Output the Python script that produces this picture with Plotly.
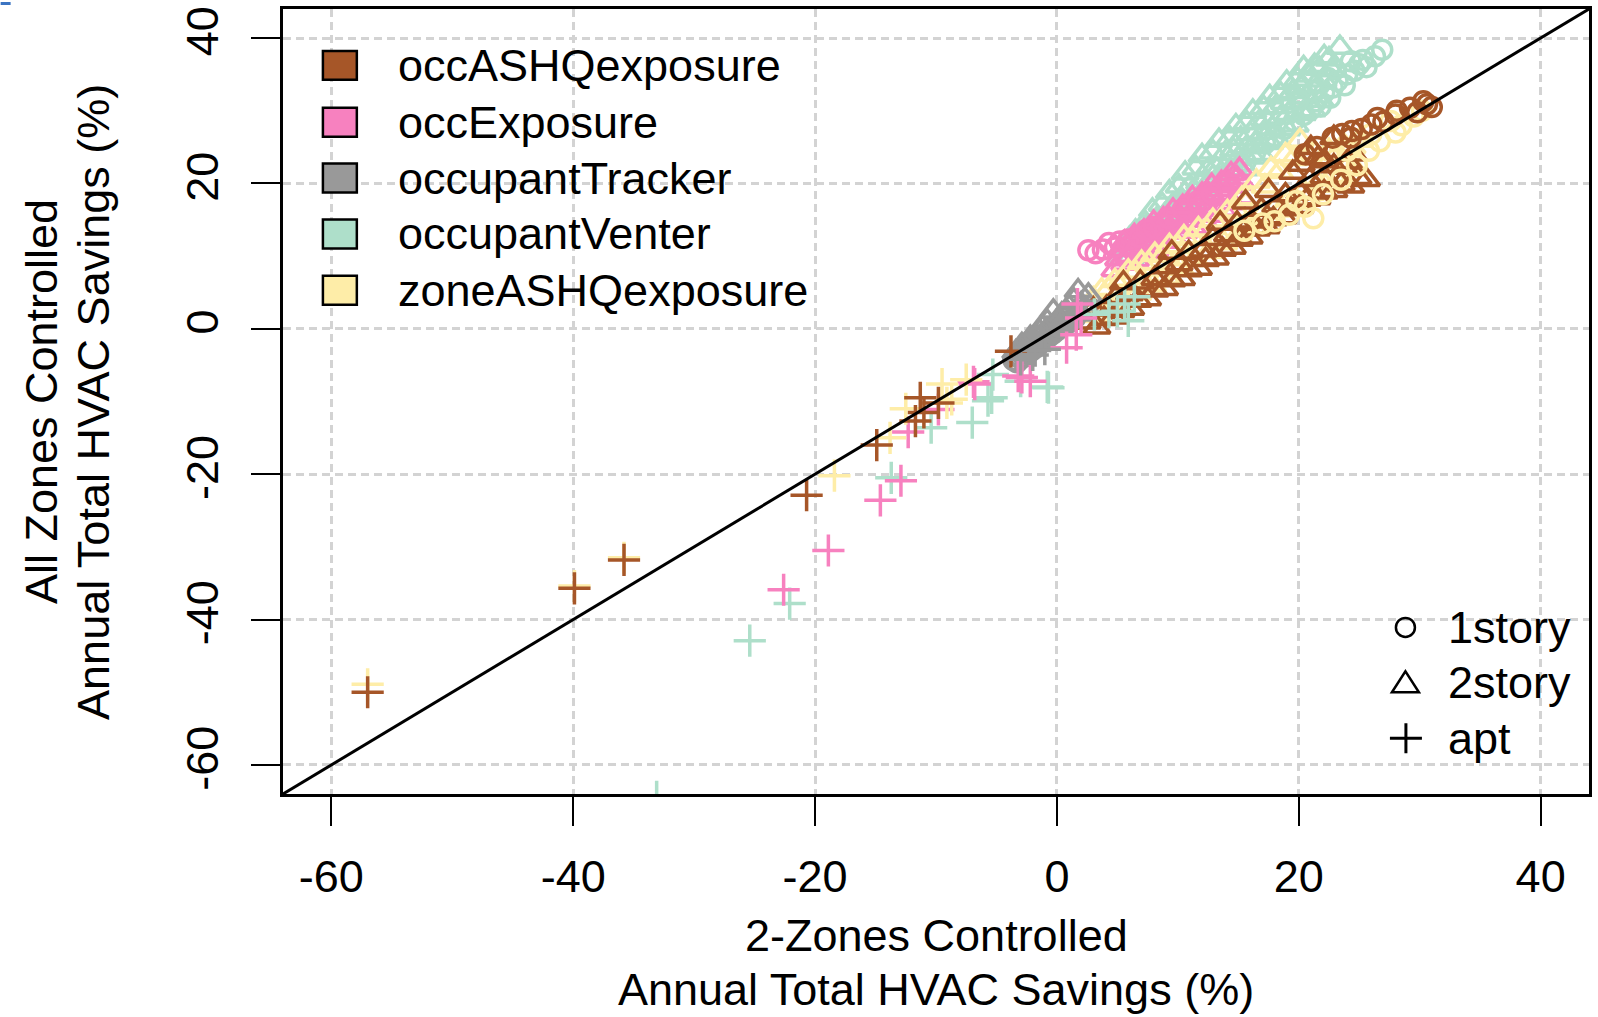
import plotly.graph_objects as go

# ---------------- data ----------------
categories = ["occASHQexposure", "occExposure", "occupantTracker", "occupantVenter", "zoneASHQexposure"]
category_colors = ["#A65628", "#F781BF", "#999999", "#AEDFCA", "#FEEDA8"]
building_types = ["1story", "2story", "apt"]
x_tick_values = [-60, -40, -20, 0, 20, 40]
x_tick_labels = ["-60", "-40", "-20", "0", "20", "40"]
y_tick_values = [-60, -40, -20, 0, 20, 40]
y_tick_labels = ["-60", "-40", "-20", "0", "20", "40"]
axis_range = [-64, 44]

# ---- occASHQexposure ----
occASHQ_1story_x = [30.6, 29.2, 28.0, 26.0, 24.4, 22.8, 31.0, 29.8, 27.0, 25.2, 23.6, 21.5, 20.5, 30.3, 28.1, 26.5, 24.3]
occASHQ_1story_y = [30.9, 30.4, 29.5, 28.1, 27.2, 26.3, 30.5, 29.8, 28.5, 27.5, 26.8, 25.0, 24.0, 31.3, 30.0, 29.0, 26.3]
occASHQ_2story_xa = [2.5, 3.3, 3.9, 4.7, 5.3, 6.1, 6.7, 7.5, 8.1, 8.9, 9.5, 10.3, 10.9, 11.7, 12.3, 13.1, 13.7, 14.5,
                     15.1, 15.9, 16.5, 17.3, 17.9, 18.7, 19.3, 20.1, 20.7, 21.5, 22.1, 22.9, 23.5, 24.3, 24.9, 25.6]
occASHQ_2story_ya = [0.9, 0.2, 1.4, 1.6, 2.5, 2.8, 3.9, 4.1, 5.3, 5.5, 6.7, 6.9, 8.1, 8.3, 9.5, 9.7, 10.9, 11.2,
                     12.3, 12.6, 13.7, 14.0, 15.1, 15.4, 16.5, 16.8, 17.8, 18.0, 18.8, 19.0, 19.9, 19.6, 20.8, 20.5]
occASHQ_2story_xb = [3.0, 4.1, 4.9, 6.0, 6.9, 8.1, 8.9, 10.1, 10.9, 12.1, 12.9, 14.1, 14.9, 16.1, 16.9, 18.1, 18.9,
                     20.1, 20.9, 22.1, 22.9, 24.1]
occASHQ_2story_yb = [2.7, 2.9, 4.4, 4.8, 6.4, 6.9, 8.5, 8.9, 10.5, 10.8, 12.4, 12.9, 14.5, 14.8, 16.4, 16.9, 18.4,
                     18.7, 20.5, 20.9, 22.4, 22.9]
occASHQ_2story_xc = [19.5, 20.2, 21.0, 21.6, 22.1, 22.9, 23.7, 17.5, 13.5, 9.5, 5.5, 15.6, 24.5]
occASHQ_2story_yc = [21.5, 22.6, 24.9, 23.5, 23.1, 26.3, 22.2, 19.0, 14.5, 10.5, 6.3, 17.4, 24.0]
occASHQ_apt_x = [-57.0, -39.9, -35.8, -20.7, -14.9, -11.7, -11.3, -9.8, -11.0, -3.8]
occASHQ_apt_y = [-50.0, -35.7, -31.8, -22.9, -16.0, -12.7, -9.5, -10.2, -11.5, -3.1]

# ---- occExposure ----
occExp_1story_x = [2.6, 3.8, 4.8, 5.9, 3.2, 4.3, 6.8, 8.0, 9.2, 10.4, 11.6, 12.8, 5.2, 7.4]
occExp_1story_y = [10.8, 10.9, 11.2, 12.3, 10.4, 11.8, 12.6, 14.0, 15.2, 16.4, 17.5, 18.6, 12.0, 13.6]
occExp_2story_xa = [4.8, 5.6, 6.5, 7.2, 8.1, 8.9, 9.6, 10.5, 11.2, 12.1, 12.8, 13.7, 14.5, 15.2]
occExp_2story_ya = [8.1, 9.0, 9.5, 10.5, 10.9, 12.0, 12.5, 13.4, 14.0, 14.9, 15.6, 16.4, 17.3, 18.1]
occExp_2story_xb = [5.1, 5.9, 6.7, 7.4, 8.3, 9.0, 9.8, 10.7, 11.4, 12.3, 13.0, 13.9, 14.6, 15.3]
occExp_2story_yb = [9.6, 10.1, 11.2, 11.6, 12.9, 13.3, 14.5, 15.0, 16.2, 16.7, 17.9, 18.4, 19.6, 20.0]
occExp_2story_xc = [5.3, 6.1, 6.9, 7.7, 8.5, 9.3, 10.1, 10.9, 11.7, 12.5, 13.3, 14.1, 14.9]
occExp_2story_yc = [10.9, 11.7, 12.2, 13.4, 13.9, 15.1, 15.6, 16.9, 17.3, 18.6, 19.1, 20.3, 20.7]
occExp_2story_xd = [5.6, 6.4, 7.2, 8.0, 8.8, 9.6, 10.4, 11.2, 12.0, 12.8, 13.6, 14.4, 15.1]
occExp_2story_yd = [11.9, 12.8, 13.4, 14.6, 15.1, 16.3, 16.8, 18.0, 18.5, 19.7, 20.1, 21.3, 21.9]
occExp_apt_x = [-22.6, -18.9, -14.6, -12.9, -12.3, -9.8, -6.9, -3.2, -2.2, -2.9, -6.8, 2.0, 1.7, 0.8, 1.6]
occExp_apt_y = [-35.9, -30.5, -23.6, -20.9, -14.2, -11.1, -7.3, -6.5, -7.2, -6.7, -7.6, 1.5, 3.4, -2.6, -0.8]

# ---- occupantTracker ----
occTrack_1story_x = [-3.6, -3.3, -3.3, -3.0, -3.0, -2.7, -2.7, -2.4, -2.4, -2.1, -2.1, -1.8, -1.8, -1.5, -1.5, -1.2,
                     -1.2, -0.9, -0.9, -0.6, -0.6, -0.3, -0.3, 0.0, 0.0, 0.3, 0.3, 0.6, 0.6, 0.9, 0.9, 1.2, 1.5]
occTrack_1story_y = [-4.3, -3.6, -4.6, -3.3, -4.1, -2.9, -3.8, -2.5, -3.4, -2.1, -3.0, -1.7, -2.6, -1.3, -2.2, -0.9,
                     -1.8, -0.5, -1.4, -0.1, -1.0, 0.3, -0.6, 0.7, -0.2, 1.1, 0.2, 1.5, 0.5, 1.8, 0.8, 1.2, 1.5]
occTrack_2story_x = [-0.3, 1.75, 2.6, 1.0, 0.4, -0.8, -1.5, -2.2, -2.9, -3.4, 2.0, 0.8, 1.4, 0.2, -1.2, 2.4, 1.7]
occTrack_2story_y = [2.4, 5.2, 4.6, 3.0, 2.0, 1.0, -0.2, -1.2, -2.2, -3.2, 3.4, 2.4, 3.9, 1.2, 0.2, 2.8, 2.0]
occTrack_apt_x = [-3.0, -2.0, -1.0, -1.8]
occTrack_apt_y = [-4.2, -3.6, -2.8, -3.0]

# ---- occupantVenter ----
occVent_1story_x = [26.9, 25.0, 24.6, 25.6, 24.0, 23.2, 22.8, 22.4, 22.1, 21.5, 21.2, 21.0, 20.4, 19.6, 18.8, 18.0, 17.2,
                    16.4, 15.6, 14.8, 13.8, 24.3, 23.0, 20.0, 26.3, 25.3, 23.8, 22.6, 21.8]
occVent_1story_y = [38.4, 36.4, 35.5, 36.0, 35.0, 34.1, 33.2, 34.5, 32.5, 31.3, 32.7, 30.2, 29.4, 28.6, 27.5, 26.5, 25.5,
                    24.3, 23.0, 22.0, 20.8, 36.8, 35.7, 31.5, 37.5, 37.0, 33.5, 31.8, 30.6]
occVent_2story_xa = [5.5, 6.1, 6.9, 7.6, 8.4, 9.0, 9.9, 10.5, 11.3, 12.0, 12.6, 13.4, 14.1, 14.7, 15.5, 16.2, 16.8,
                     17.6, 18.2, 19.0, 19.7, 20.3, 21.1, 21.8]
occVent_2story_ya = [9.7, 9.9, 10.4, 12.1, 12.5, 13.9, 14.4, 15.9, 16.3, 17.8, 18.2, 19.7, 20.1, 21.6, 22.0, 23.6, 24.1,
                     25.6, 26.0, 27.5, 28.0, 29.6, 30.1, 31.4]
occVent_2story_xb = [5.7, 6.3, 7.1, 7.8, 8.5, 9.3, 10.0, 10.8, 11.5, 12.2, 12.9, 13.6, 14.3, 15.0, 15.7, 16.4, 17.1,
                     17.8, 18.5, 19.2, 19.9, 20.6, 21.3, 22.0, 22.7]
occVent_2story_yb = [10.9, 11.6, 12.2, 13.5, 14.4, 15.0, 16.6, 17.2, 18.7, 19.3, 20.9, 21.4, 23.0, 23.4, 25.0, 25.5, 27.0,
                     27.6, 29.1, 29.6, 31.2, 31.9, 33.5, 34.2, 35.6]
occVent_2story_xc = [6.0, 6.8, 7.4, 8.2, 8.9, 9.6, 10.3, 11.0, 11.8, 12.5, 13.1, 13.9, 14.6, 15.2, 16.0, 16.7, 17.3,
                     18.1, 18.8, 19.5, 20.2, 20.9, 21.7, 22.5, 23.4]
occVent_2story_yc = [12.4, 13.0, 14.0, 15.0, 15.6, 17.1, 17.8, 19.6, 20.1, 21.9, 22.2, 24.1, 24.6, 26.2, 26.8, 28.4, 28.8,
                     30.5, 31.1, 32.6, 33.2, 34.9, 35.8, 37.1, 38.7]
occVent_2story_xd = [5.8, 6.5, 7.3, 7.9, 8.7, 9.3, 10.1, 10.6, 11.5, 12.0, 12.9, 13.4, 14.3, 14.8, 15.7, 16.2, 17.1,
                     17.6, 18.5, 19.0, 19.9, 20.4, 21.3, 22.1]
occVent_2story_yd = [11.8, 13.4, 14.6, 16.3, 17.1, 18.8, 19.6, 21.4, 22.1, 23.8, 24.3, 25.9, 26.2, 27.9, 28.3, 29.9, 30.4,
                     31.9, 32.3, 33.9, 34.3, 35.9, 36.2, 37.4]
occVent_apt_x = [-33.1, -25.4, -22.1, -13.7, -10.4, -7.0, -5.7, -5.3, -3.0, -0.8, -5.4, -0.7, 3.1, 5.0, 5.9, 5.6, 6.4, 4.3]
occVent_apt_y = [-64.4, -42.9, -37.8, -20.5, -13.6, -12.9, -9.9, -6.3, -7.2, -8.0, -9.5, -8.1, 2.0, 2.4, 1.1, 3.4, 4.4, 2.3]

# ---- zoneASHQexposure ----
zoneASHQ_1story_x = [15.5, 17.0, 18.0, 19.2, 20.5, 22.0, 23.5, 24.8, 25.8, 26.7, 27.6, 26.0, 28.5, 29.5, 30.2, 28.0, 24.0,
                     21.2, 19.8]
zoneASHQ_1story_y = [13.5, 14.5, 14.8, 15.7, 16.8, 18.5, 20.5, 22.5, 24.5, 25.8, 28.6, 26.8, 28.0, 29.2, 30.0, 27.0, 24.5,
                     15.2, 17.6]
zoneASHQ_2story_xa = [3.0, 3.7, 4.3, 4.8, 5.4, 5.9, 6.5, 7.0, 7.6, 8.1, 8.8, 9.3, 10.0, 10.5, 11.2, 11.7, 12.4, 12.9,
                      13.6, 14.1, 14.8, 15.3, 16.0, 16.5, 17.2, 17.7, 18.4, 18.9, 19.6, 20.1, 20.8, 21.3, 22.0, 22.5,
                      23.2, 23.7, 24.4, 25.0]
zoneASHQ_2story_ya = [4.1, 5.3, 5.5, 6.6, 6.8, 7.9, 7.8, 9.1, 9.0, 10.2, 10.1, 11.4, 11.3, 12.6, 12.4, 13.7, 13.6, 14.9,
                      14.9, 16.1, 16.3, 17.9, 18.0, 20.3, 19.6, 22.0, 21.6, 23.9, 23.4, 25.9, 23.8, 24.2, 23.3, 24.5,
                      24.1, 25.3, 25.0, 25.9]
zoneASHQ_2story_xb = [3.3, 3.9, 4.5, 5.1, 5.6, 6.2, 6.7, 7.3, 7.9, 8.4, 9.0, 9.6, 10.2, 10.8, 11.4, 12.0, 12.6, 13.2,
                      13.8, 14.4, 15.0, 15.6, 16.2, 16.8, 17.4, 18.0, 18.6, 19.2, 19.8, 20.4, 21.0, 21.6, 22.2, 22.8,
                      23.4, 24.0, 24.6]
zoneASHQ_2story_yb = [1.8, 2.6, 2.7, 3.8, 3.9, 5.0, 4.9, 6.1, 6.0, 7.3, 7.1, 8.5, 8.3, 9.6, 9.5, 10.8, 10.6, 11.9,
                      11.8, 13.1, 12.9, 14.3, 14.0, 15.4, 15.2, 16.5, 16.3, 17.7, 17.4, 18.9, 18.6, 20.0, 19.7, 21.1,
                      20.8, 22.3, 22.0]
zoneASHQ_apt_x = [-57.0, -39.9, -35.8, -18.4, -13.8, -9.5, -9.1, -8.7, -12.5, -7.5]
zoneASHQ_apt_y = [-48.9, -35.4, -31.5, -20.2, -15.0, -7.6, -10.2, -9.7, -11.0, -7.0]

series = {
    ("occASHQexposure", "1story"): (occASHQ_1story_x, occASHQ_1story_y),
    ("occASHQexposure", "2story"): (occASHQ_2story_xa + occASHQ_2story_xb + occASHQ_2story_xc,
                                    occASHQ_2story_ya + occASHQ_2story_yb + occASHQ_2story_yc),
    ("occASHQexposure", "apt"): (occASHQ_apt_x, occASHQ_apt_y),
    ("occExposure", "1story"): (occExp_1story_x, occExp_1story_y),
    ("occExposure", "2story"): (occExp_2story_xa + occExp_2story_xb + occExp_2story_xc + occExp_2story_xd,
                                occExp_2story_ya + occExp_2story_yb + occExp_2story_yc + occExp_2story_yd),
    ("occExposure", "apt"): (occExp_apt_x, occExp_apt_y),
    ("occupantTracker", "1story"): (occTrack_1story_x, occTrack_1story_y),
    ("occupantTracker", "2story"): (occTrack_2story_x, occTrack_2story_y),
    ("occupantTracker", "apt"): (occTrack_apt_x, occTrack_apt_y),
    ("occupantVenter", "1story"): (occVent_1story_x, occVent_1story_y),
    ("occupantVenter", "2story"): (occVent_2story_xa + occVent_2story_xb + occVent_2story_xc + occVent_2story_xd,
                                   occVent_2story_ya + occVent_2story_yb + occVent_2story_yc + occVent_2story_yd),
    ("occupantVenter", "apt"): (occVent_apt_x, occVent_apt_y),
    ("zoneASHQexposure", "1story"): (zoneASHQ_1story_x, zoneASHQ_1story_y),
    ("zoneASHQexposure", "2story"): (zoneASHQ_2story_xa + zoneASHQ_2story_xb, zoneASHQ_2story_ya + zoneASHQ_2story_yb),
    ("zoneASHQexposure", "apt"): (zoneASHQ_apt_x, zoneASHQ_apt_y),
}

# ---------------- styling ----------------
W, H = 1598, 1017
ML, MR, MT, MB = 283, 6, 7, 223
FONT = "Liberation Sans, Arial, Helvetica, sans-serif"
FS = 45
color_of = dict(zip(categories, category_colors))
symbol_of = {"1story": "circle-open", "2story": "triangle-up-open", "apt": "cross-thin-open"}
size_of = {"1story": 19, "2story": 23, "apt": 23}
width_of = {"1story": 3.5, "2story": 3.5, "apt": 3.5}

draw_order = [
    ("occupantVenter", "2story"), ("occupantVenter", "1story"),
    ("occExposure", "2story"), ("occExposure", "1story"),
    ("zoneASHQexposure", "2story"), ("occASHQexposure", "2story"),
    ("zoneASHQexposure", "1story"), ("occASHQexposure", "1story"),
    ("occupantTracker", "1story"), ("occupantTracker", "2story"),
    ("occupantVenter", "apt"), ("occExposure", "apt"), ("zoneASHQexposure", "apt"),
    ("occASHQexposure", "apt"), ("occupantTracker", "apt"),
]

fig = go.Figure()
for cat, bt in draw_order:
    xs, ys = series[(cat, bt)]
    fig.add_trace(go.Scatter(
        x=xs, y=ys, mode="markers", name=f"{cat} {bt}", showlegend=False,
        marker=dict(symbol=symbol_of[bt], size=size_of[bt], color=color_of[cat],
                    line=dict(color=color_of[cat], width=width_of[bt])),
        hoverinfo="x+y+name",
    ))

def px2x(px):
    return (px - ML) / (W - ML - MR)

def py2y(py):
    return (H - MB - py) / (H - MT - MB)

shapes = []
annotations = []

# y = x reference line spanning the axis range
shapes.append(dict(type="line", xref="x", yref="y", x0=axis_range[0], y0=axis_range[0],
                   x1=axis_range[1], y1=axis_range[1], line=dict(color="black", width=3), layer="above"))

# category legend (filled boxes)
leg1_rows = [63.5, 120.5, 176.5, 232.5, 289]
for cat, col, yc in zip(categories, category_colors, leg1_rows):
    shapes.append(dict(type="rect", xref="paper", yref="paper",
                       x0=px2x(323), x1=px2x(357), y0=py2y(yc + 14.5), y1=py2y(yc - 14.5),
                       fillcolor=col, line=dict(color="black", width=2.5), layer="above"))
    annotations.append(dict(text=cat, xref="paper", yref="paper", x=px2x(396), y=py2y(yc),
                            xanchor="left", yanchor="middle", showarrow=False,
                            font=dict(family=FONT, size=FS, color="black")))

# building-type legend (symbols)
leg2_rows = [627, 682, 738]
sx = 1408
shapes.append(dict(type="circle", xref="paper", yref="paper", xsizemode="pixel", ysizemode="pixel",
                   xanchor=px2x(sx), yanchor=py2y(leg2_rows[0]), x0=-9.5, x1=9.5, y0=-9.5, y1=9.5,
                   line=dict(color="black", width=2.5), layer="above"))
shapes.append(dict(type="path", xref="paper", yref="paper", xsizemode="pixel", ysizemode="pixel",
                   xanchor=px2x(sx), yanchor=py2y(leg2_rows[1]), path="M -13.5,-10 L 13.5,-10 L 0,11 Z",
                   line=dict(color="black", width=2.5), layer="above"))
shapes.append(dict(type="path", xref="paper", yref="paper", xsizemode="pixel", ysizemode="pixel",
                   xanchor=px2x(sx + 0.5), yanchor=py2y(leg2_rows[2]), path="M -16,0 L 16,0 M 0,-15 L 0,15",
                   line=dict(color="black", width=3), layer="above"))
for bt, yc in zip(building_types, leg2_rows):
    annotations.append(dict(text=bt, xref="paper", yref="paper", x=px2x(1449), y=py2y(yc),
                            xanchor="left", yanchor="middle", showarrow=False,
                            font=dict(family=FONT, size=FS, color="black")))

# axis titles (two lines each)
for txt, py in [("2-Zones Controlled", 936), ("Annual Total HVAC Savings (%)", 990)]:
    annotations.append(dict(text=txt, xref="paper", yref="paper", x=0.5, y=py2y(py),
                            xanchor="center", yanchor="middle", showarrow=False,
                            font=dict(family=FONT, size=FS, color="black")))
for txt, px in [("All Zones Controlled", 41), ("Annual Total HVAC Savings (%)", 93)]:
    annotations.append(dict(text=txt, xref="paper", yref="paper", x=px2x(px), y=0.5, textangle=-90,
                            xanchor="center", yanchor="middle", showarrow=False,
                            font=dict(family=FONT, size=FS, color="black")))

# small blue mark in the top-left corner of the picture
shapes.append(dict(type="rect", xref="paper", yref="paper", x0=px2x(0), x1=px2x(10), y0=py2y(3), y1=py2y(0),
                   fillcolor="#3B74C2", line=dict(width=0)))

axis_common = dict(
    range=axis_range, tickmode="array", ticks="outside", ticklen=29, tickwidth=2, tickcolor="black",
    showline=True, linewidth=3, linecolor="black", mirror=True, zeroline=False,
    showgrid=True, gridcolor="#D3D3D3", gridwidth=2.5, griddash="8px,5px",
    tickfont=dict(family=FONT, size=FS, color="black"),
)

fig.update_layout(
    width=W, height=H, margin=dict(l=ML, r=MR, t=MT, b=MB, pad=0),
    paper_bgcolor="white", plot_bgcolor="white", showlegend=False,
    xaxis=dict(tickvals=x_tick_values, ticktext=x_tick_labels, ticklabelstandoff=12, **axis_common),
    yaxis=dict(tickvals=y_tick_values, ticktext=y_tick_labels, tickangle=-90, ticklabelstandoff=15, **axis_common),
    shapes=shapes, annotations=annotations,
)

fig.write_html("out.html")
